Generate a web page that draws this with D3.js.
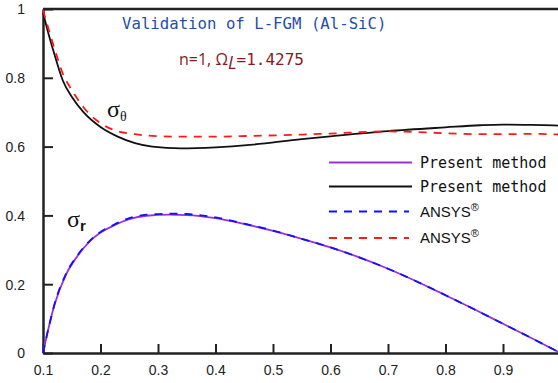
<!DOCTYPE html>
<html>
<head>
<meta charset="utf-8">
<script src="https://cdn.jsdelivr.net/npm/d3@7/dist/d3.min.js"></script>
<style>
  body { margin: 0; background: #fff; }
  svg { display: block; }
</style>
</head>
<body>
<div id="chart"></div>
<script>
// radius positions for the hoop stress curves
const thetaX = [0.1, 0.11, 0.12, 0.135, 0.15, 0.17, 0.2, 0.23, 0.26, 0.29, 0.34, 0.4, 0.46, 0.55, 0.6, 0.7, 0.8, 0.86, 0.9, 0.95, 1.0];
const thetaPresent = [0.99, 0.925, 0.868, 0.79, 0.745, 0.701, 0.657, 0.629, 0.61, 0.6, 0.595, 0.598, 0.605, 0.622, 0.63, 0.645, 0.656, 0.662, 0.664, 0.663, 0.661];
const thetaAnsys = [0.997, 0.94, 0.885, 0.81, 0.765, 0.715, 0.668, 0.645, 0.636, 0.631, 0.629, 0.629, 0.631, 0.635, 0.638, 0.644, 0.639, 0.636, 0.636, 0.637, 0.635];

// radius positions for the radial stress curves
const radialX = [0.1, 0.11, 0.12, 0.14, 0.16, 0.18, 0.2, 0.22, 0.25, 0.28, 0.32, 0.35, 0.4, 0.45, 0.5, 0.55, 0.6, 0.65, 0.7, 0.75, 0.8, 0.85, 0.9, 0.95, 1.0];
const radialPresent = [0, 0.075, 0.14, 0.228, 0.282, 0.322, 0.35, 0.368, 0.389, 0.399, 0.402, 0.401, 0.392, 0.375, 0.355, 0.332, 0.307, 0.278, 0.245, 0.208, 0.168, 0.127, 0.085, 0.043, 0];
const radialAnsys = [0, 0.075, 0.142, 0.23, 0.284, 0.324, 0.352, 0.37, 0.392, 0.402, 0.405, 0.404, 0.394, 0.376, 0.356, 0.332, 0.307, 0.278, 0.245, 0.208, 0.168, 0.127, 0.085, 0.043, 0];

const xTicks = [0.1, 0.2, 0.3, 0.4, 0.5, 0.6, 0.7, 0.8, 0.9];
const yTicks = [0, 0.2, 0.4, 0.6, 0.8, 1];

const legendLabels = ["Present method", "Present method", "ANSYS", "ANSYS"];

const width = 558, height = 383;
const margin = { top: 9, left: 43, bottom: 30 };
const plotRight = 560.5;

const svg = d3.select("#chart").append("svg").attr("width", width).attr("height", height);

const x = d3.scaleLinear().domain([0.1, 1.0]).range([margin.left, plotRight]);
const y = d3.scaleLinear().domain([0, 1]).range([height - margin.bottom, margin.top]);

const axisColor = "#222";

// axes
const xAxis = d3.axisBottom(x).tickValues(xTicks).tickSizeInner(-9).tickSizeOuter(0).tickPadding(12).tickFormat(d3.format(".1f"));
const yAxis = d3.axisLeft(y).tickValues(yTicks).tickSizeInner(-10).tickSizeOuter(0).tickPadding(18).tickFormat(d => d === 0 || d === 1 ? String(d) : d3.format(".1f")(d));

const gx = svg.append("g").attr("transform", `translate(0,${y(0)})`).call(xAxis);
const gy = svg.append("g").attr("transform", `translate(${x(0.1)},0)`).call(yAxis);

[gx, gy].forEach(g => {
  g.select(".domain").attr("stroke", axisColor).attr("stroke-width", 2.5);
  g.selectAll(".tick line").attr("stroke", axisColor).attr("stroke-width", 2);
  g.selectAll(".tick text").attr("fill", axisColor).style("font-family", "Liberation Sans, Arial, sans-serif").style("font-size", "14px");
});
gy.selectAll(".tick text").attr("dy", "0.35em");

// top frame line
svg.append("line")
  .attr("x1", x(0.1)).attr("x2", plotRight)
  .attr("y1", y(1)).attr("y2", y(1))
  .attr("stroke", axisColor).attr("stroke-width", 2.5);

const line = d3.line().x(d => x(d[0])).y(d => y(d[1])).curve(d3.curveMonotoneX);

const series = [
  { xs: radialX, ys: radialPresent, color: "#9b30d6", dash: null },
  { xs: thetaX, ys: thetaPresent, color: "#111", dash: null },
  { xs: radialX, ys: radialAnsys, color: "#1010ff", dash: "8,7" },
  { xs: thetaX, ys: thetaAnsys, color: "#ff1a1a", dash: "8,7" }
];

svg.append("g").selectAll("path").data(series).join("path")
  .attr("d", s => line(s.xs.map((v, i) => [v, s.ys[i]])))
  .attr("fill", "none")
  .attr("stroke", s => s.color)
  .attr("stroke-width", 1.8)
  .attr("stroke-dasharray", s => s.dash);

// title
svg.append("text")
  .attr("x", 122).attr("y", 29)
  .attr("fill", "#1f4fa8")
  .style("font-family", "DejaVu Sans Mono, monospace")
  .style("font-size", "15.7px")
  .text("Validation of L-FGM (Al-SiC)");

const sub = svg.append("text")
  .attr("x", 179).attr("y", 65)
  .attr("fill", "#8b1a1a")
  .style("font-size", "16px");
sub.append("tspan").style("font-family", "Open Sans, sans-serif").text("n=1, Ω");
sub.append("tspan").style("font-family", "Open Sans, sans-serif").style("font-style", "italic").style("font-size", "18px").attr("dy", 4).text("L");
sub.append("tspan").style("font-family", "DejaVu Sans Mono, monospace").attr("dy", -4).text("=1.4275");

// curve labels
const sigTheta = svg.append("text").attr("x", 107).attr("y", 117)
  .style("font-family", "Liberation Serif, serif").style("font-size", "24px").attr("fill", "#111");
sigTheta.append("tspan").text("σ");
sigTheta.append("tspan").attr("dy", 4).style("font-size", "14px").text("θ");

const sigR = svg.append("text").attr("x", 67).attr("y", 227)
  .style("font-family", "Liberation Serif, serif").style("font-size", "24px").attr("fill", "#111");
sigR.append("tspan").text("σ");
sigR.append("tspan").attr("dy", 4).style("font-family", "Liberation Sans, sans-serif").style("font-weight", "bold").style("font-size", "15px").text("r");

// legend
const legendY = [162.5, 186.5, 211.5, 238];
const legend = svg.append("g");
series.forEach((s, i) => {
  legend.append("line")
    .attr("x1", 329).attr("x2", s.dash ? 409 : 412)
    .attr("y1", legendY[i]).attr("y2", legendY[i])
    .attr("stroke", s.color).attr("stroke-width", 1.8)
    .attr("stroke-dasharray", s.dash);
  const t = legend.append("text")
    .attr("x", 420).attr("y", legendY[i] + 5)
    .attr("fill", "#111");
  if (i < 2) {
    t.style("font-family", "DejaVu Sans Mono, monospace").style("font-size", "15px").text(legendLabels[i]);
  } else {
    t.style("font-family", "Liberation Sans, Arial, sans-serif").style("font-size", "15px").text(legendLabels[i]);
    t.append("tspan").attr("dy", -6).style("font-size", "11px").text("®");
  }
});
</script>
</body>
</html>
